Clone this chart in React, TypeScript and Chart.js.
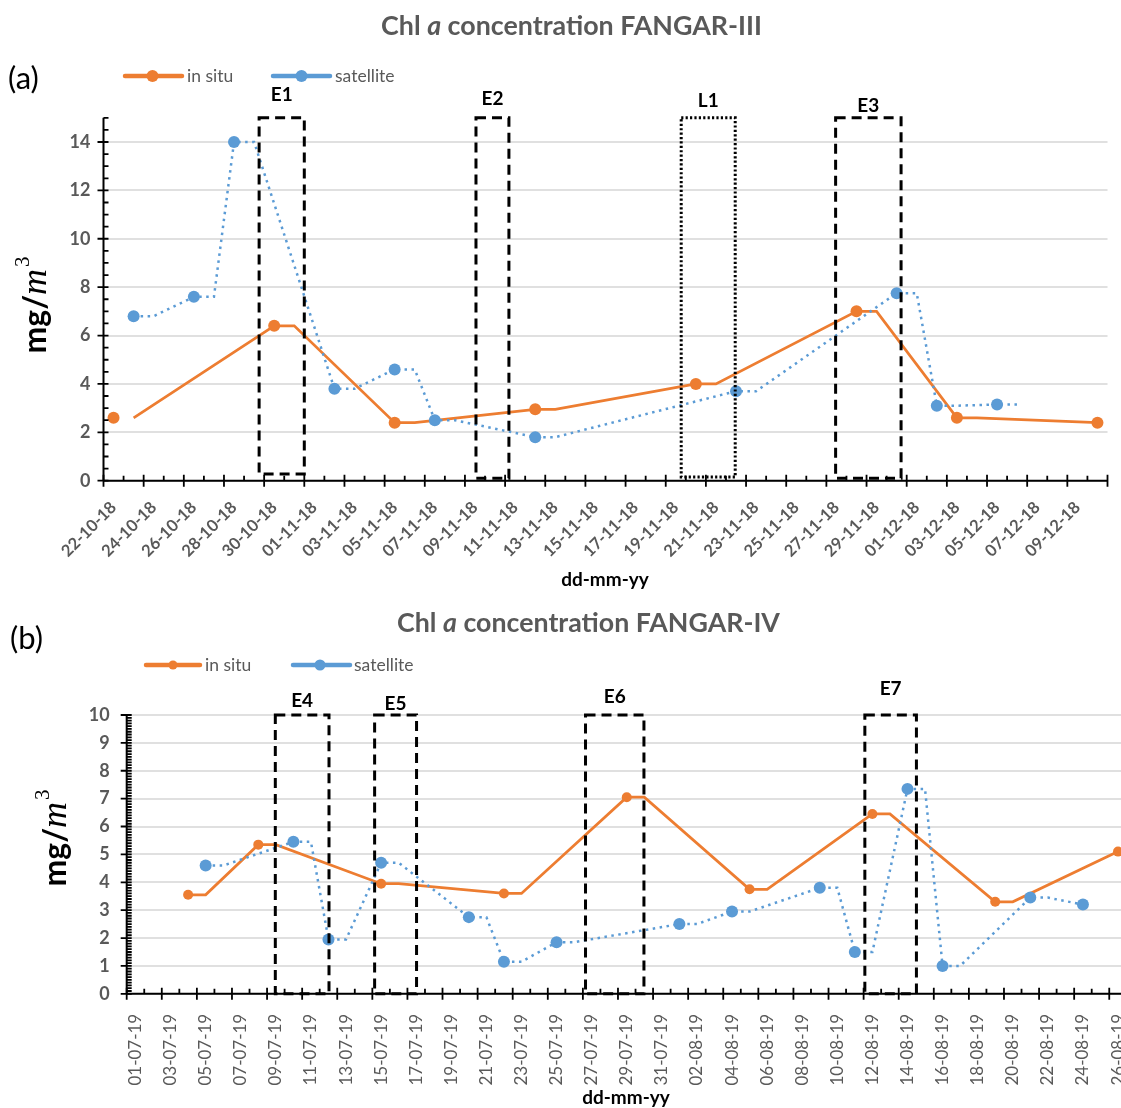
import React, { useEffect, useRef } from 'react';
import { Chart, registerables } from 'chart.js';

Chart.register(...registerables);

const FONT = 'Lato, "Open Sans", "DejaVu Sans", sans-serif';
const SERIF = '"Liberation Serif", "DejaVu Serif", serif';
const GRAY = '#595959';
const ORANGE = '#ED7D31';
const BLUE = '#5B9BD5';
const GRID = '#e0e0e0';

// ---------------- Panel (a) : FANGAR-III ----------------
const A_TITLE_PARTS = ['Chl ', 'a', ' concentration FANGAR-III'];
const A_AXIS_START = '22-10-18';
const A_AXIS_END = '10-12-18';
const A_TICK_LABELS = [
  '22-10-18', '24-10-18', '26-10-18', '28-10-18', '30-10-18', '01-11-18', '03-11-18',
  '05-11-18', '07-11-18', '09-11-18', '11-11-18', '13-11-18', '15-11-18', '17-11-18',
  '19-11-18', '21-11-18', '23-11-18', '25-11-18', '27-11-18', '29-11-18', '01-12-18',
  '03-12-18', '05-12-18', '07-12-18', '09-12-18',
];
const A_INSITU_DATES = ['22-10-18', '30-10-18', '05-11-18', '12-11-18', '20-11-18', '28-11-18', '03-12-18', '10-12-18'];
const A_INSITU_VALUES = [2.6, 6.4, 2.4, 2.95, 4.0, 7.0, 2.6, 2.4];
const A_SAT_DATES = ['23-10-18', '26-10-18', '28-10-18', '02-11-18', '05-11-18', '07-11-18', '12-11-18', '22-11-18', '30-11-18', '02-12-18', '05-12-18'];
const A_SAT_VALUES = [6.8, 7.6, 14.0, 3.8, 4.6, 2.5, 1.8, 3.7, 7.75, 3.1, 3.15];
const A_Y_MAX = 15;
const A_Y_STEP = 2;
const A_Y_MINOR = 0.5;
// event boxes (x in days after axis start, y in mg/m3)
const A_BOX_LABELS = ['E1', 'E2', 'L1', 'E3'];
const A_BOX_FROM = [7.25, 18.05, 28.27, 35.96];
const A_BOX_TO = [9.5, 19.69, 30.96, 39.22];
const A_BOX_BOTTOM = [0.28, 0.1, 0.15, 0.1];
const A_BOX_TOP = [15, 15, 15, 15];
const A_BOX_DOTTED = [false, false, true, false];

// ---------------- Panel (b) : FANGAR-IV ----------------
const B_TITLE_PARTS = ['Chl ', 'a', ' concentration FANGAR-IV'];
const B_AXIS_START = '01-07-19';
const B_AXIS_END = '26-08-19';
const B_TICK_LABELS = [
  '01-07-19', '03-07-19', '05-07-19', '07-07-19', '09-07-19', '11-07-19', '13-07-19',
  '15-07-19', '17-07-19', '19-07-19', '21-07-19', '23-07-19', '25-07-19', '27-07-19',
  '29-07-19', '31-07-19', '02-08-19', '04-08-19', '06-08-19', '08-08-19', '10-08-19',
  '12-08-19', '14-08-19', '16-08-19', '18-08-19', '20-08-19', '22-08-19', '24-08-19',
  '26-08-19',
];
const B_INSITU_DATES = ['04-07-19', '08-07-19', '15-07-19', '22-07-19', '29-07-19', '05-08-19', '12-08-19', '19-08-19', '26-08-19'];
const B_INSITU_VALUES = [3.55, 5.35, 3.95, 3.6, 7.05, 3.75, 6.45, 3.3, 5.1];
const B_SAT_DATES = ['05-07-19', '10-07-19', '12-07-19', '15-07-19', '20-07-19', '22-07-19', '25-07-19', '01-08-19', '04-08-19', '09-08-19', '11-08-19', '14-08-19', '16-08-19', '21-08-19', '24-08-19'];
const B_SAT_VALUES = [4.6, 5.45, 1.95, 4.7, 2.75, 1.15, 1.85, 2.5, 2.95, 3.8, 1.5, 7.35, 1.0, 3.45, 3.2];
const B_Y_MAX = 10;
const B_Y_STEP = 1;
const B_Y_MINOR = 0.1;
const B_BOX_LABELS = ['E4', 'E5', 'E6', 'E7'];
const B_BOX_FROM = [7.97, 13.63, 25.65, 41.57];
const B_BOX_TO = [11.03, 16.02, 28.98, 44.51];
const B_BOX_BOTTOM = [0, 0, 0, 0];
const B_BOX_TOP = [10, 10, 10, 10];
const B_BOX_DOTTED = [false, false, false, false];

// ---------------- helpers ----------------
function dayNum(s: string): number {
  const [dd, mm, yy] = s.split('-').map(Number);
  return Math.round(Date.UTC(2000 + yy, mm - 1, dd) / 86400000);
}

function stepLine(xs: number[], vals: number[], maxX: number, skipLead: boolean, skipTail: boolean) {
  const out: { x: number; y: number }[] = [];
  xs.forEach((d, i) => {
    if (!(skipLead && i === 0)) out.push({ x: d, y: vals[i] });
    if (!(skipTail && i === xs.length - 1) && d + 1 <= maxX) out.push({ x: d + 1, y: vals[i] });
  });
  return out;
}

type Layout = {
  W: number; H: number; top: number;
  left: number; right: number; plotTop: number; plotBottom: number;
  xRot: number; xTickFont: any; xTickPad: number; yTickPad: number;
  title: { cx: number; cy: number; width: number };
  tag: { text: string; x: number; y: number };
  legend: { y: number; o: [number, number, number]; b: [number, number, number]; ot: number; bt: number; or: number; br: number };
  xTitle: { x: number; y: number };
  yTitle: { x: number; y: number };
  labelLift: number[];
  insituR: number; satR: number;
};

type Spec = {
  titleParts: string[];
  axisStart: string; axisEnd: string; tickLabels: string[];
  insituDates: string[]; insituValues: number[];
  satDates: string[]; satValues: number[];
  insituSkipLead: boolean; satSkipTail: boolean;
  yMax: number; yStep: number; yMinor: number;
  boxLabels: string[]; boxFrom: number[]; boxTo: number[]; boxBottom: number[]; boxTop: number[]; boxDotted: boolean[];
};

function drawMixed(ctx: CanvasRenderingContext2D, parts: { t: string; f: string }[], x: number, y: number) {
  let cx = x;
  parts.forEach((p) => {
    ctx.font = p.f;
    ctx.fillText(p.t, cx, y);
    cx += ctx.measureText(p.t).width;
  });
}

function makeConfig(spec: Spec, L: Layout): any {
  const start = dayNum(spec.axisStart);
  const day = (s: string) => dayNum(s) - start;
  const maxX = day(spec.axisEnd);
  const insX = spec.insituDates.map(day);
  const satX = spec.satDates.map(day);
  const labelMap = new Map<number, string>();
  spec.tickLabels.forEach((l) => labelMap.set(day(l), l));

  const decor = {
    id: 'decor',
    afterDatasetsDraw(chart: any) {
      const { ctx, chartArea: ca } = chart;
      const x = chart.scales.x;
      const y = chart.scales.y;
      ctx.save();
      // event boxes
      spec.boxLabels.forEach((lab, i) => {
        const x1 = x.getPixelForValue(spec.boxFrom[i]);
        const x2 = x.getPixelForValue(spec.boxTo[i]);
        const y1 = y.getPixelForValue(spec.boxTop[i]);
        const y2 = y.getPixelForValue(spec.boxBottom[i]);
        ctx.strokeStyle = '#000';
        ctx.lineWidth = 3;
        ctx.setLineDash(spec.boxDotted[i] ? [2.2, 2.2] : [10, 6]);
        ctx.strokeRect(x1, y1, x2 - x1, y2 - y1);
        ctx.setLineDash([]);
        ctx.fillStyle = '#000';
        ctx.font = `bold 19px ${FONT}`;
        ctx.textAlign = 'center';
        ctx.textBaseline = 'middle';
        ctx.fillText(lab, (x1 + x2) / 2, y1 - L.labelLift[i]);
      });
      // axes
      const y0 = y.getPixelForValue(0);
      const yTop = y.getPixelForValue(spec.yMax);
      ctx.strokeStyle = '#000';
      ctx.lineWidth = 2;
      ctx.beginPath();
      ctx.moveTo(ca.left, y0);
      ctx.lineTo(ca.right, y0);
      ctx.moveTo(ca.left, y0);
      ctx.lineTo(ca.left, yTop);
      ctx.stroke();
      ctx.lineWidth = 1.8;
      ctx.beginPath();
      for (let i = 0; i <= maxX + 1; i++) {
        const px = x.getPixelForValue(i - 0.5);
        if (i % 2 === 0) {
          ctx.moveTo(px, y0 - 6);
          ctx.lineTo(px, y0 + 6);
        } else {
          ctx.moveTo(px, y0 - 5);
          ctx.lineTo(px, y0);
        }
      }
      const nMinor = Math.round(spec.yMax / spec.yMinor);
      const ratio = Math.round(spec.yStep / spec.yMinor);
      for (let j = 0; j <= nMinor; j++) {
        const py = y.getPixelForValue(j * spec.yMinor);
        if (j % ratio === 0) {
          ctx.moveTo(ca.left - 6, py);
          ctx.lineTo(ca.left + 5, py);
        } else {
          ctx.moveTo(ca.left, py);
          ctx.lineTo(ca.left + 5, py);
        }
      }
      ctx.stroke();
      ctx.restore();
    },
    afterDraw(chart: any) {
      const { ctx } = chart;
      ctx.save();
      // title with italic a
      const base = 24;
      const fB = (s: number) => `bold ${s}px ${FONT}`;
      const fI = (s: number) => `italic bold ${s}px ${FONT}`;
      const measure = (s: number) => {
        let w = 0;
        spec.titleParts.forEach((t, i) => {
          ctx.font = i === 1 ? fI(s) : fB(s);
          w += ctx.measureText(t).width;
        });
        return w;
      };
      const size = (base * L.title.width) / measure(base);
      const tw = measure(size);
      ctx.fillStyle = GRAY;
      ctx.textBaseline = 'middle';
      ctx.textAlign = 'left';
      drawMixed(
        ctx,
        spec.titleParts.map((t, i) => ({ t, f: i === 1 ? fI(size) : fB(size) })),
        L.title.cx - tw / 2,
        L.title.cy,
      );
      // panel tag
      ctx.fillStyle = '#000';
      ctx.font = `31px ${FONT}`;
      ctx.fillText(L.tag.text, L.tag.x, L.tag.y);
      // legend
      const lg = L.legend;
      const item = (c: string, seg: [number, number, number], r: number, tx: number, text: string) => {
        ctx.strokeStyle = c;
        ctx.lineWidth = 4.5;
        ctx.lineCap = 'round';
        ctx.beginPath();
        ctx.moveTo(seg[0], lg.y);
        ctx.lineTo(seg[1], lg.y);
        ctx.stroke();
        ctx.fillStyle = c;
        ctx.beginPath();
        ctx.arc(seg[2], lg.y, r, 0, Math.PI * 2);
        ctx.fill();
        ctx.fillStyle = GRAY;
        ctx.font = `17.5px ${FONT}`;
        ctx.textBaseline = 'middle';
        ctx.fillText(text, tx, lg.y);
      };
      item(ORANGE, lg.o, lg.or, lg.ot, 'in situ');
      item(BLUE, lg.b, lg.br, lg.bt, 'satellite');
      // x title
      ctx.fillStyle = '#000';
      ctx.font = `bold 19px ${FONT}`;
      ctx.textAlign = 'center';
      ctx.fillText('dd-mm-yy', L.xTitle.x, L.xTitle.y);
      // y title mg/m^3 rotated
      ctx.translate(L.yTitle.x, L.yTitle.y);
      ctx.rotate(-Math.PI / 2);
      ctx.textAlign = 'left';
      ctx.textBaseline = 'alphabetic';
      const p1 = { t: 'mg/', f: `bold 32px ${FONT}` };
      const p2 = { t: 'm', f: `italic 36px ${SERIF}` };
      const p3 = { t: '3', f: `21px ${SERIF}` };
      ctx.font = p1.f; const w1 = ctx.measureText(p1.t).width;
      ctx.font = p2.f; const w2 = ctx.measureText(p2.t).width;
      ctx.font = p3.f; const w3 = ctx.measureText(p3.t).width;
      const sx = -(w1 + w2 + w3 + 2) / 2;
      ctx.font = p1.f; ctx.fillText(p1.t, sx, 0);
      ctx.font = p2.f; ctx.fillText(p2.t, sx + w1, 0);
      ctx.font = p3.f; ctx.fillText(p3.t, sx + w1 + w2 + 2, -17);
      ctx.restore();
    },
  };

  return {
    type: 'line',
    data: {
      datasets: [
        {
          label: 'satellite',
          data: satX.map((d, i) => ({ x: d, y: spec.satValues[i] })),
          showLine: false,
          pointRadius: L.satR,
          pointBackgroundColor: BLUE,
          pointBorderWidth: 0,
          borderColor: BLUE,
        },
        {
          label: 'satellite line',
          data: stepLine(satX, spec.satValues, maxX, false, spec.satSkipTail),
          borderColor: BLUE,
          borderWidth: 2.5,
          borderDash: [2.5, 4.5],
          pointRadius: 0,
          tension: 0,
          fill: false,
        },
        {
          label: 'in situ',
          data: insX.map((d, i) => ({ x: d, y: spec.insituValues[i] })),
          showLine: false,
          pointRadius: L.insituR,
          pointBackgroundColor: ORANGE,
          pointBorderWidth: 0,
          borderColor: ORANGE,
        },
        {
          label: 'in situ line',
          data: stepLine(insX, spec.insituValues, maxX, spec.insituSkipLead, false),
          borderColor: ORANGE,
          borderWidth: 2.75,
          pointRadius: 0,
          tension: 0,
          fill: false,
        },
      ],
    },
    options: {
      animation: false,
      responsive: false,
      maintainAspectRatio: false,
      events: [],
      layout: { padding: { left: 0, right: L.W - L.right, top: L.plotTop, bottom: 0 } },
      plugins: { legend: { display: false }, title: { display: false }, tooltip: { enabled: false } },
      scales: {
        x: {
          type: 'linear',
          min: -0.5,
          max: maxX + 0.5,
          grid: { display: false },
          border: { display: false },
          afterBuildTicks: (s: any) => {
            s.ticks = spec.tickLabels.map((l) => ({ value: day(l) }));
          },
          ticks: {
            autoSkip: false,
            minRotation: L.xRot,
            maxRotation: L.xRot,
            padding: L.xTickPad,
            color: GRAY,
            font: L.xTickFont,
            callback: (v: number) => labelMap.get(Math.round(v)) ?? '',
          },
          afterFit: (s: any) => {
            s.height = L.H - L.plotBottom;
            s.paddingLeft = 0;
            s.paddingRight = 0;
          },
        },
        y: {
          type: 'linear',
          min: 0,
          max: spec.yMax,
          grid: { color: GRID, lineWidth: 2, drawTicks: false },
          border: { display: false },
          afterBuildTicks: (s: any) => {
            const t: any[] = [];
            for (let v = 0; v <= spec.yMax + 1e-9; v += spec.yStep) t.push({ value: v });
            s.ticks = t;
          },
          ticks: {
            padding: L.yTickPad,
            color: GRAY,
            font: { family: FONT, size: 18, weight: 'bold' },
          },
          afterFit: (s: any) => {
            s.width = L.left;
            s.paddingTop = 0;
            s.paddingBottom = 0;
          },
        },
      },
    },
    plugins: [decor],
  };
}

const SPEC_A: Spec = {
  titleParts: A_TITLE_PARTS,
  axisStart: A_AXIS_START, axisEnd: A_AXIS_END, tickLabels: A_TICK_LABELS,
  insituDates: A_INSITU_DATES, insituValues: A_INSITU_VALUES,
  satDates: A_SAT_DATES, satValues: A_SAT_VALUES,
  insituSkipLead: true, satSkipTail: false,
  yMax: A_Y_MAX, yStep: A_Y_STEP, yMinor: A_Y_MINOR,
  boxLabels: A_BOX_LABELS, boxFrom: A_BOX_FROM, boxTo: A_BOX_TO, boxBottom: A_BOX_BOTTOM, boxTop: A_BOX_TOP, boxDotted: A_BOX_DOTTED,
};

const SPEC_B: Spec = {
  titleParts: B_TITLE_PARTS,
  axisStart: B_AXIS_START, axisEnd: B_AXIS_END, tickLabels: B_TICK_LABELS,
  insituDates: B_INSITU_DATES, insituValues: B_INSITU_VALUES,
  satDates: B_SAT_DATES, satValues: B_SAT_VALUES,
  insituSkipLead: false, satSkipTail: true,
  yMax: B_Y_MAX, yStep: B_Y_STEP, yMinor: B_Y_MINOR,
  boxLabels: B_BOX_LABELS, boxFrom: B_BOX_FROM, boxTo: B_BOX_TO, boxBottom: B_BOX_BOTTOM, boxTop: B_BOX_TOP, boxDotted: B_BOX_DOTTED,
};

const LAYOUT_A: Layout = {
  W: 1121, H: 600, top: 0,
  left: 103.5, right: 1107.5, plotTop: 117.8, plotBottom: 480.7,
  xRot: 45, xTickFont: { family: FONT, size: 16.5, weight: 'bold' }, xTickPad: 9, yTickPad: 13,
  title: { cx: 571.5, cy: 26, width: 381 },
  tag: { text: '(a)', x: 8, y: 79 },
  legend: { y: 76, o: [125, 182, 152.5], b: [273, 330, 301.5], ot: 187, bt: 335, or: 6, br: 6 },
  xTitle: { x: 605, y: 580 },
  yTitle: { x: 46, y: 305 },
  labelLift: [23, 19, 17, 12],
  insituR: 6, satR: 6,
};

const LAYOUT_B: Layout = {
  W: 1160, H: 508, top: 600,
  left: 126.7, right: 1126.8, plotTop: 115, plotBottom: 393.8,
  xRot: 90, xTickFont: { family: FONT, size: 17 }, xTickPad: 12, yTickPad: 17,
  title: { cx: 588.5, cy: 23, width: 383 },
  tag: { text: '(b)', x: 10, y: 39 },
  legend: { y: 65, o: [146, 200, 173], b: [293, 350, 320], ot: 205, bt: 354, or: 4.5, br: 5.5 },
  xTitle: { x: 626, y: 498 },
  yTitle: { x: 66, y: 238 },
  labelLift: [14, 11, 18, 26],
  insituR: 5, satR: 6,
};

function Panel({ spec, layout }: { spec: Spec; layout: Layout }) {
  const ref = useRef<HTMLCanvasElement>(null);
  useEffect(() => {
    if (!ref.current) return;
    const chart = new Chart(ref.current, makeConfig(spec, layout));
    return () => chart.destroy();
  }, [spec, layout]);
  return (
    <canvas
      ref={ref}
      width={layout.W}
      height={layout.H}
      style={{ position: 'absolute', left: 0, top: layout.top, width: layout.W, height: layout.H }}
    />
  );
}

export default function App() {
  return (
    <div
      style={{
        position: 'fixed',
        left: 0,
        top: 0,
        width: 1121,
        height: 1108,
        overflow: 'hidden',
        background: '#fff',
      }}
    >
      <Panel spec={SPEC_A} layout={LAYOUT_A} />
      <Panel spec={SPEC_B} layout={LAYOUT_B} />
    </div>
  );
}
